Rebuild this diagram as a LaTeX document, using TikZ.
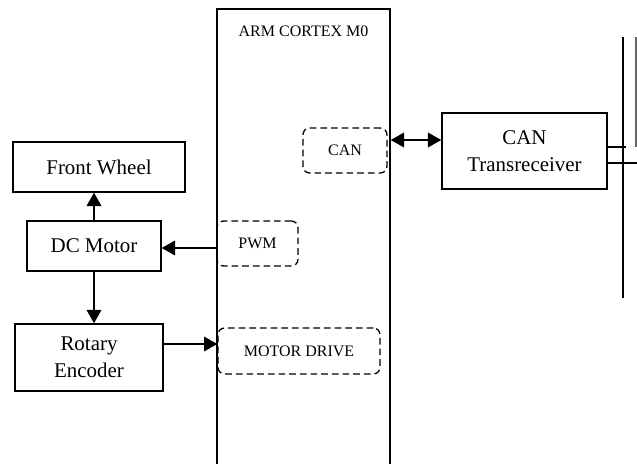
\documentclass[tikz,border=0pt]{standalone}
\usepackage{fontspec}
\setmainfont{Liberation Serif}
\usetikzlibrary{arrows.meta,positioning,calc}

\begin{document}
\begin{tikzpicture}[
    x=0.75pt, y=-0.75pt,
    blk/.style={rectangle, draw, line width=1.1pt, inner sep=0pt, align=center, font=\fontsize{15.7}{20.5}\selectfont},
    port/.style={rectangle, draw, dashed, dash pattern=on 5pt off 3pt, rounded corners=5pt, line width=1pt, inner sep=0pt, font=\fontsize{12}{14}\selectfont},
    arrow/.style={-{Triangle[length=10pt, width=11pt]}, line width=1.1pt},
    darrow/.style={{Triangle[length=10pt, width=11pt]}-{Triangle[length=10pt, width=11pt]}, line width=1.1pt}
]
    \useasboundingbox (0,0) rectangle (637,464);
    \clip (0,0) rectangle (637,464);

    % controller
    \node[draw, line width=1.1pt, minimum width=129.75pt, minimum height=345.75pt] (arm) at (303.5,239.5) {};
    \node[font=\fontsize{12}{14}\selectfont] (title) at (303.5,31) {ARM CORTEX M0};

    \node[port, minimum width=63pt, minimum height=33.75pt] (can) at (345,150.5) {CAN};
    \node[port, minimum width=60.75pt, minimum height=33.75pt] (pwm) at (257.5,243.5) {PWM};
    \node[port, minimum width=121.5pt, minimum height=34.5pt] (drive) at (299,351) {MOTOR DRIVE};

    % left side
    \node[blk, minimum width=129pt, minimum height=37.5pt] (wheel) at (99,167) {Front Wheel};
    \node[blk, minimum width=100.5pt, minimum height=37.5pt] (motor) at (94,246) {DC Motor};
    \node[blk, minimum width=111pt, minimum height=50.25pt] (encoder) at (89,357.5) {Rotary\\Encoder};

    % right side
    \node[blk, minimum width=123.75pt, minimum height=57pt] (trans) at (524.5,151) {CAN\\Transreceiver};

    \draw[arrow] (motor.north) -- (motor.north |- wheel.south);
    \draw[arrow] (motor.south) -- (motor.south |- encoder.north);
    \draw[arrow] (pwm.west |- 0,248) -- (motor.east |- 0,248);
    \draw[arrow] (encoder.east |- 0,344) -- (drive.west |- 0,344);
    \draw[darrow] (arm.east |- 0,140) -- (trans.west |- 0,140);

    % bus
    \coordinate (busH) at (623,37);
    \coordinate (busL) at (623,298);
    \coordinate (busH2) at (636,37);
    \coordinate (busL2) at (636,147);
    \draw[line width=1.1pt] (busH) -- (busL);
    \draw[line width=1pt, black!60] (busH2) -- (busL2);
    \draw[line width=1pt] (trans.east |- 0,147) -- (626,147);
    \draw[line width=1pt] (trans.east |- 0,163) -- (637,163);
\end{tikzpicture}
\end{document}
